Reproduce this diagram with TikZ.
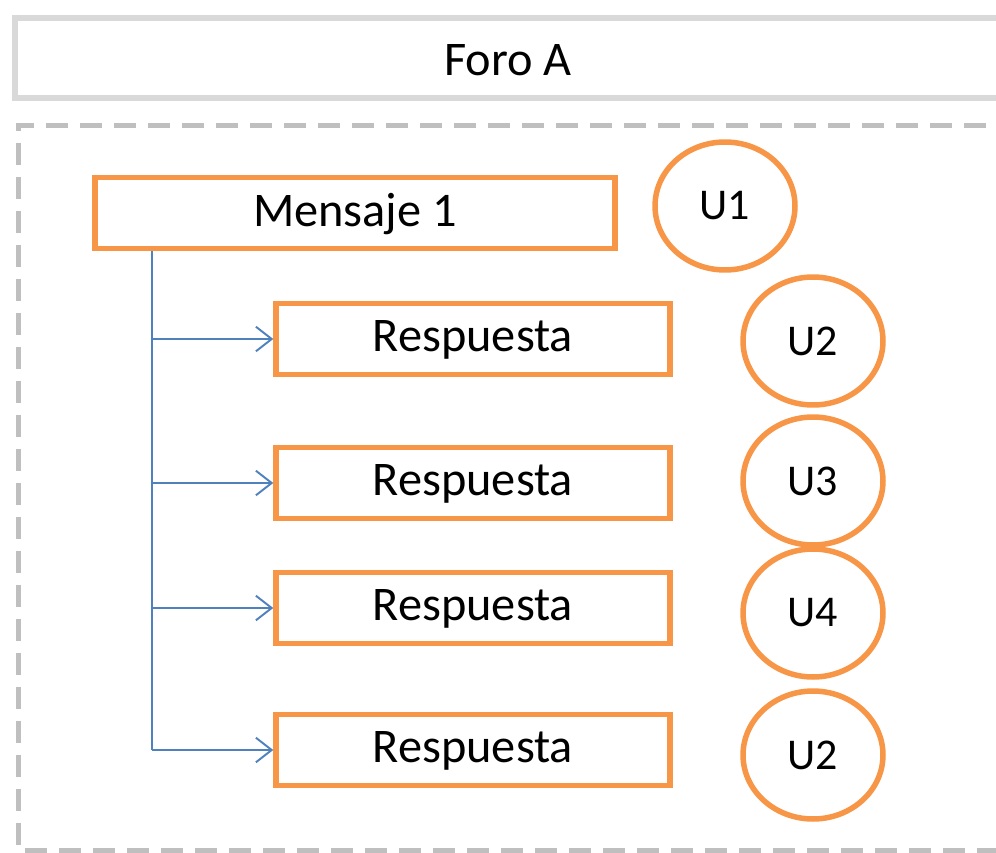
\documentclass[tikz,border=0pt]{standalone}
\usepackage{fontspec}
\setmainfont{Carlito}
\usetikzlibrary{shapes.geometric,arrows.meta}
\definecolor{msgorange}{HTML}{F79646}
\definecolor{wireblue}{HTML}{4F81BD}
\definecolor{framegray}{HTML}{D9D9D9}
\definecolor{dashgray}{HTML}{BFBFBF}
\tikzset{
  msgbox/.style={draw=msgorange,line width=0.11cm,rectangle,fill=white,minimum height=1.42cm,inner sep=0pt,text depth=0.38em},
  userring/.style={draw=msgorange,line width=0.11cm,ellipse,minimum width=2.8cm,minimum height=2.56cm,inner sep=0pt,font=\fontsize{25}{30}\selectfont},
  wire/.style={draw=wireblue,line width=1.1pt},
  reply/.style={wire,-{Straight Barb[length=9pt,width=14pt,line width=1.1pt]}}
}
\begin{document}
\begin{tikzpicture}[x=0.02cm,y=-0.02cm,font=\fontsize{27.5}{33}\selectfont]
\useasboundingbox (0,0) rectangle (996,852);
\clip (0,0) rectangle (996,852);
% forum header and thread area
\draw[framegray,line width=0.12cm] (15,18) rectangle (1020,98);
\node (foro) at (508,60) {Foro A};
\draw[dashgray,line width=0.1cm,dash pattern=on 0.44cm off 0.24cm] (1020,125) -- (18,125) -- (18,850) -- (1020,850);
% messages
\node[msgbox,minimum width=10.4cm] (m1) at (355,213) {Mensaje 1};
\node[msgbox,minimum width=7.88cm] (r1) at (473,339) {Respuesta};
\node[msgbox,minimum width=7.88cm] (r2) at (473,483) {Respuesta};
\node[msgbox,minimum width=7.88cm] (r3) at (473,608) {Respuesta};
\node[msgbox,minimum width=7.88cm] (r4) at (473,750) {Respuesta};
% users
\node[userring] (u1) at (725,206) {U1};
\node[userring] (u2) at (813,341) {U2};
\node[userring] (u3) at (813,481) {U3};
\node[userring] (u4) at (813,613) {U4};
\node[userring] (u5) at (813,755) {U2};
% replies
\coordinate (trunk) at (152,250);
\draw[wire] (m1.south -| trunk) -- (trunk |- r4);
\draw[reply] (trunk |- r1) -- (r1);
\draw[reply] (trunk |- r2) -- (r2);
\draw[reply] (trunk |- r3) -- (r3);
\draw[reply] (trunk |- r4) -- (r4);
\end{tikzpicture}
\end{document}
